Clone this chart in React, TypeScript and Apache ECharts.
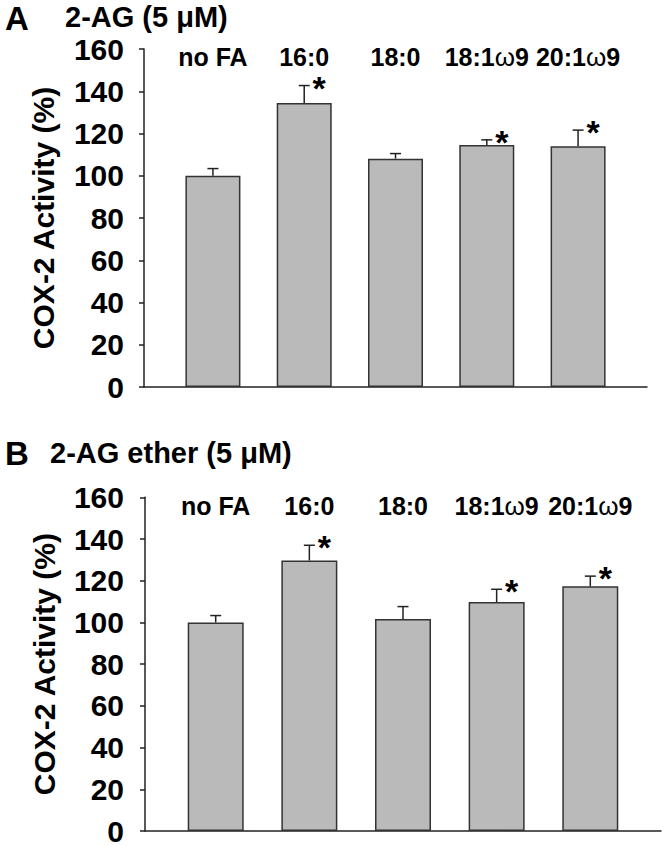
import React, { useEffect, useRef } from "react";
import * as echarts from "echarts";

// ---- data ----
const categories = ["no FA", "16:0", "18:0", "18:1ω9", "20:1ω9"];
const meanA = [100, 134.4, 108.1, 114.5, 114.0];
const errA = [3.4, 8.3, 2.4, 2.5, 7.6];
const sigA = [0, 1, 0, 1, 1];
const meanB = [100, 129.7, 101.6, 109.8, 117.3];
const errB = [3.3, 7.3, 6.0, 6.1, 4.9];
const sigB = [0, 1, 0, 1, 1];
const yMin = 0;
const yMax = 160;
const yStep = 20;
const titleA = "2-AG (5 μM)";
const titleB = "2-AG ether (5 μM)";
const yName = "COX-2 Activity (%)";

// ---- style constants ----
const MAIN_FONT = "'Liberation Sans', Arial, Helvetica, sans-serif";
const TICK_FONT = "'Liberation Sans Narrow', 'Arial Narrow', 'Liberation Sans', Arial, sans-serif";
const LINE = "#222";
const LABEL_LEVEL = 156;
const X_MIN = -0.755;
const X_MAX = 4.755;

function makeRender() {
  return (params: any, api: any) => {
    const i = api.value(0);
    const m = api.value(1);
    const e = api.value(2);
    const s = api.value(3);
    const base = api.coord([i, m]);
    const cap = api.coord([i, m + e]);
    const lab = api.coord([i, LABEL_LEVEL]);
    const name = categories[params.dataIndex].replace("ω", "{w|ω}");
    const children: any[] = [
      {
        type: "line",
        shape: { x1: base[0], y1: base[1], x2: cap[0], y2: cap[1] },
        style: { stroke: LINE, lineWidth: 1.5 },
      },
      {
        type: "line",
        shape: { x1: cap[0] - 5.5, y1: cap[1], x2: cap[0] + 5.5, y2: cap[1] },
        style: { stroke: LINE, lineWidth: 1.5 },
      },
      {
        type: "text",
        x: lab[0],
        y: lab[1],
        style: {
          text: name,
          fill: "#000",
          fontSize: 25,
          fontWeight: "bold",
          fontFamily: MAIN_FONT,
          align: "center",
          verticalAlign: "middle",
          textAlign: "center",
          textVerticalAlign: "middle",
          rich: {
            w: { fontSize: 26, fontWeight: "normal", fontFamily: MAIN_FONT, fill: "#000" },
          },
        },
      },
    ];
    if (s) {
      children.push({
        type: "text",
        x: cap[0] + 15,
        y: cap[1] + 2,
        style: {
          text: "*",
          fill: "#000",
          fontSize: 34,
          fontWeight: "bold",
          fontFamily: MAIN_FONT,
          align: "center",
          verticalAlign: "middle",
          textAlign: "center",
          textVerticalAlign: "middle",
        },
      });
    }
    return { type: "group", children };
  };
}

function xAxisCfg(gridIndex: number) {
  return {
    type: "value",
    gridIndex,
    min: X_MIN,
    max: X_MAX,
    axisLine: { show: true, onZero: false, lineStyle: { color: LINE, width: 1.5 } },
    axisTick: { show: false },
    axisLabel: { show: false },
    splitLine: { show: false },
  };
}

function yAxisCfg(gridIndex: number, margin: number) {
  return {
    type: "value",
    gridIndex,
    min: yMin,
    max: yMax,
    interval: yStep,
    name: yName,
    nameLocation: "middle",
    nameGap: 86,
    nameTextStyle: { fontSize: 30, fontWeight: "bold", fontFamily: MAIN_FONT, color: "#000" },
    axisLine: { show: true, onZero: false, lineStyle: { color: LINE, width: 1.5 } },
    axisTick: { show: true, length: 5, lineStyle: { color: LINE, width: 1.5 } },
    axisLabel: { margin, fontSize: 30, fontWeight: "bold", fontFamily: TICK_FONT, color: "#000" },
    splitLine: { show: false },
  };
}

function barSeries(idx: number, means: number[], width: number) {
  return {
    type: "bar",
    xAxisIndex: idx,
    yAxisIndex: idx,
    barWidth: width,
    data: means.map((v, i) => [i, v]),
    itemStyle: { color: "#bababa", borderColor: "#333", borderWidth: 1.5 },
    z: 2,
  };
}

function errSeries(idx: number, means: number[], errs: number[], sig: number[]) {
  return {
    type: "custom",
    xAxisIndex: idx,
    yAxisIndex: idx,
    clip: false,
    encode: { x: 0, y: 1 },
    data: means.map((v, i) => [i, v, errs[i], sig[i]]),
    renderItem: makeRender(),
    z: 3,
  };
}

export default function App() {
  const ref = useRef<HTMLDivElement>(null);
  useEffect(() => {
    if (!ref.current) return;
    const chart = echarts.init(ref.current, undefined, { renderer: "svg" });
    const headText = (text: string, x: number, y: number, size: number) => ({
      type: "text",
      x,
      y,
      style: {
        text,
        fill: "#000",
        fontSize: size,
        fontWeight: "bold",
        fontFamily: MAIN_FONT,
        align: "left",
        verticalAlign: "middle",
        textAlign: "left",
        textVerticalAlign: "middle",
      },
    });
    chart.setOption({
      animation: false,
      backgroundColor: "#fff",
      grid: [
        { left: 144, top: 49, width: 503, height: 338 },
        { left: 145, top: 497.3, width: 516, height: 336 },
      ],
      xAxis: [xAxisCfg(0), xAxisCfg(1)],
      yAxis: [yAxisCfg(0, 20), yAxisCfg(1, 21)],
      series: [
        barSeries(0, meanA, 55),
        errSeries(0, meanA, errA, sigA),
        barSeries(1, meanB, 56),
        errSeries(1, meanB, errB, sigB),
      ],
      graphic: [
        headText("A", 5, 18, 33),
        headText(titleA, 65, 17, 29),
        headText("B", 5, 453, 33),
        headText(titleB, 50, 453, 29),
      ],
    });
    return () => chart.dispose();
  }, []);
  return (
    <div
      ref={ref}
      style={{ position: "absolute", left: 0, top: 0, width: 663, height: 846, background: "#fff" }}
    />
  );
}
